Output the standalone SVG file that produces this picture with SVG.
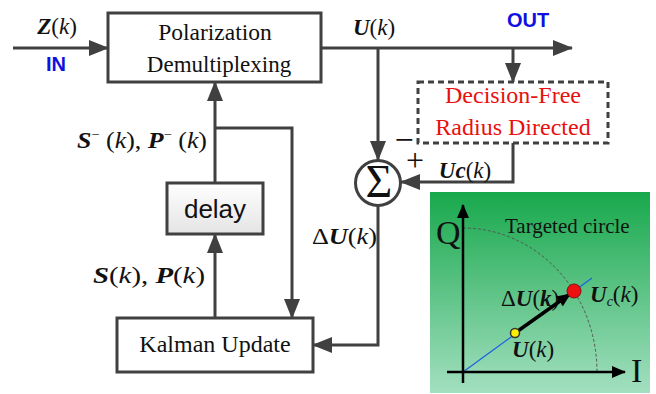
<svg xmlns="http://www.w3.org/2000/svg" width="656" height="394" viewBox="0 0 656 394">
<defs>
<style>
.ln{fill:none;stroke:#404040;stroke-width:3}
.box{fill:#fff;stroke:#404040;stroke-width:3}
.t{font-family:"Liberation Serif",serif;fill:#111}
.m{font-family:"Liberation Serif",serif;font-size:23px;fill:#111}
.bi{font-weight:bold;font-style:italic}
.i{font-style:italic}
.lab{font-family:"Liberation Sans",sans-serif;font-weight:bold;font-size:20px;fill:#1010e0}
.ax{fill:none;stroke:#000;stroke-width:2.5}
.red{fill:#e81010}
</style>
<marker id="ah" markerUnits="userSpaceOnUse" markerWidth="20" markerHeight="16" refX="19" refY="8" orient="auto" viewBox="0 0 20 16">
<path d="M0,0 L20,8 L0,16 z" fill="#404040"/>
</marker>
<marker id="ab" markerUnits="userSpaceOnUse" markerWidth="14" markerHeight="12" refX="13" refY="6" orient="auto" viewBox="0 0 14 12">
<path d="M0,0 L14,6 L0,12 z" fill="#000"/>
</marker>
<linearGradient id="gp" x1="0" y1="0" x2="0" y2="1">
<stop offset="0" stop-color="#18a84c"/>
<stop offset="1" stop-color="#a3dfc0"/>
</linearGradient>
<linearGradient id="gd" x1="0" y1="0" x2="0" y2="1">
<stop offset="0" stop-color="#ffffff"/>
<stop offset="1" stop-color="#e4e4e4"/>
</linearGradient>
</defs>

<g id="connectors">
<line class="ln" x1="13" y1="48" x2="108" y2="48" marker-end="url(#ah)"/>
<line class="ln" x1="321" y1="48" x2="572" y2="48" marker-end="url(#ah)"/>
<line class="ln" x1="378" y1="48" x2="378" y2="160" marker-end="url(#ah)"/>
<line class="ln" x1="513" y1="48" x2="513" y2="82" marker-end="url(#ah)"/>
<polyline class="ln" points="513,143 513,182 401,182" marker-end="url(#ah)"/>
<polyline class="ln" points="378,206 378,345 313,345" marker-end="url(#ah)"/>
<line class="ln" x1="215" y1="318" x2="215" y2="234" marker-end="url(#ah)"/>
<line class="ln" x1="215" y1="183" x2="215" y2="82" marker-end="url(#ah)"/>
<polyline class="ln" points="215,128 292,128 292,318" marker-end="url(#ah)"/>
</g>

<g id="pdm">
<rect class="box" x="108" y="13" width="213" height="69"/>
<text class="t" font-family="Liberation Serif, serif" x="215" y="40" font-size="23.5" text-anchor="middle">Polarization</text>
<text class="t" font-family="Liberation Serif, serif" x="219" y="72" font-size="23" text-anchor="middle">Demultiplexing</text>
</g>

<g id="dfrd">
<rect x="418" y="82" width="190" height="61" fill="#fff" stroke="#404040" stroke-width="3" stroke-dasharray="6,4"/>
<text class="t red" font-family="Liberation Serif, serif" x="513" y="103" font-size="24" text-anchor="middle">Decision-Free</text>
<text class="t red" font-family="Liberation Serif, serif" x="513" y="135" font-size="24" text-anchor="middle">Radius Directed</text>
</g>

<g id="sum">
<circle cx="378" cy="183" r="22.5" fill="#fff" stroke="#404040" stroke-width="3"/>
<text class="t" font-family="Liberation Serif, serif" x="379" y="197" font-size="46" text-anchor="middle">Σ</text>
</g>

<g id="delay">
<rect x="167" y="183" width="96" height="51" fill="url(#gd)" stroke="#404040" stroke-width="3"/>
<text x="215" y="218" font-family="Liberation Sans, sans-serif" font-size="26" text-anchor="middle" fill="#111">delay</text>
</g>

<g id="kalman">
<rect class="box" x="117" y="318" width="196" height="54"/>
<text class="t" font-family="Liberation Serif, serif" x="215" y="352" font-size="24" text-anchor="middle">Kalman Update</text>
</g>

<g id="labels">
<text class="m" x="57" y="34" text-anchor="middle"><tspan class="bi">Z</tspan>(<tspan class="i">k</tspan>)</text>
<text class="lab" x="56" y="71" text-anchor="middle" font-size="21">IN</text>
<text class="lab" x="528" y="27" text-anchor="middle">OUT</text>
<text class="m" x="374" y="35" text-anchor="middle"><tspan class="bi">U</tspan>(<tspan class="i">k</tspan>)</text>
<text class="m" x="465" y="178" text-anchor="middle"><tspan class="bi">Uc</tspan>(<tspan class="i">k</tspan>)</text>
<text class="t" font-family="Liberation Serif, serif" x="404" y="151" font-size="34" text-anchor="middle">−</text>
<text class="t" font-family="Liberation Serif, serif" x="415" y="171" font-size="32" text-anchor="middle">+</text>
<text class="m" x="312" y="244" textLength="65" lengthAdjust="spacingAndGlyphs">Δ<tspan class="bi">U</tspan>(<tspan class="i">k</tspan>)</text>
<text class="m" x="77" y="148" textLength="130" lengthAdjust="spacingAndGlyphs"><tspan class="bi">S</tspan><tspan font-size="13" dy="-9">−</tspan><tspan dy="9"> (</tspan><tspan class="i">k</tspan>), <tspan class="bi">P</tspan><tspan font-size="13" dy="-9">−</tspan><tspan dy="9"> (</tspan><tspan class="i">k</tspan>)</text>
<text class="m" x="93" y="283" textLength="112" lengthAdjust="spacingAndGlyphs"><tspan class="bi">S</tspan>(<tspan class="i">k</tspan>), <tspan class="bi">P</tspan>(<tspan class="i">k</tspan>)</text>
</g>

<g id="panel">
<rect x="430" y="192" width="220" height="201" fill="url(#gp)"/>
<path d="M463,228 A134,144 0 0 1 597,372" fill="none" stroke="#555" stroke-width="1" stroke-dasharray="3,2"/>
<line x1="463" y1="372" x2="592" y2="278" stroke="#2060e0" stroke-width="1.3"/>
<line class="ax" x1="463" y1="383" x2="463" y2="205" marker-end="url(#ab)"/>
<line class="ax" x1="447" y1="372" x2="625" y2="372" marker-end="url(#ab)"/>
<text class="m" x="501" y="306" font-size="20"><tspan>Δ</tspan><tspan class="bi">U</tspan>(<tspan class="bi">k</tspan>)</text>
<line x1="515" y1="333" x2="570" y2="294" stroke="#000" stroke-width="3.5" marker-end="url(#ab)"/>
<circle cx="515" cy="333" r="4.5" fill="#ffee00" stroke="#333" stroke-width="1.5"/>
<circle cx="574" cy="291" r="7" fill="#ee1010" stroke="#801010" stroke-width="1"/>
<text class="t" font-family="Liberation Serif, serif" x="436" y="244" font-size="34">Q</text>
<text class="t" font-family="Liberation Serif, serif" x="631" y="382" font-size="34">I</text>
<text class="t" font-family="Liberation Serif, serif" x="505" y="233" font-size="21">Targeted circle</text>
<text class="m" x="590" y="302" font-size="21"><tspan class="bi">U</tspan><tspan class="i" font-size="14" dy="4">c</tspan><tspan dy="-4">(</tspan><tspan class="i">k</tspan>)</text>
<text class="m" x="512" y="357" font-size="21"><tspan class="bi">U</tspan>(<tspan class="i">k</tspan>)</text>
</g>
</svg>
